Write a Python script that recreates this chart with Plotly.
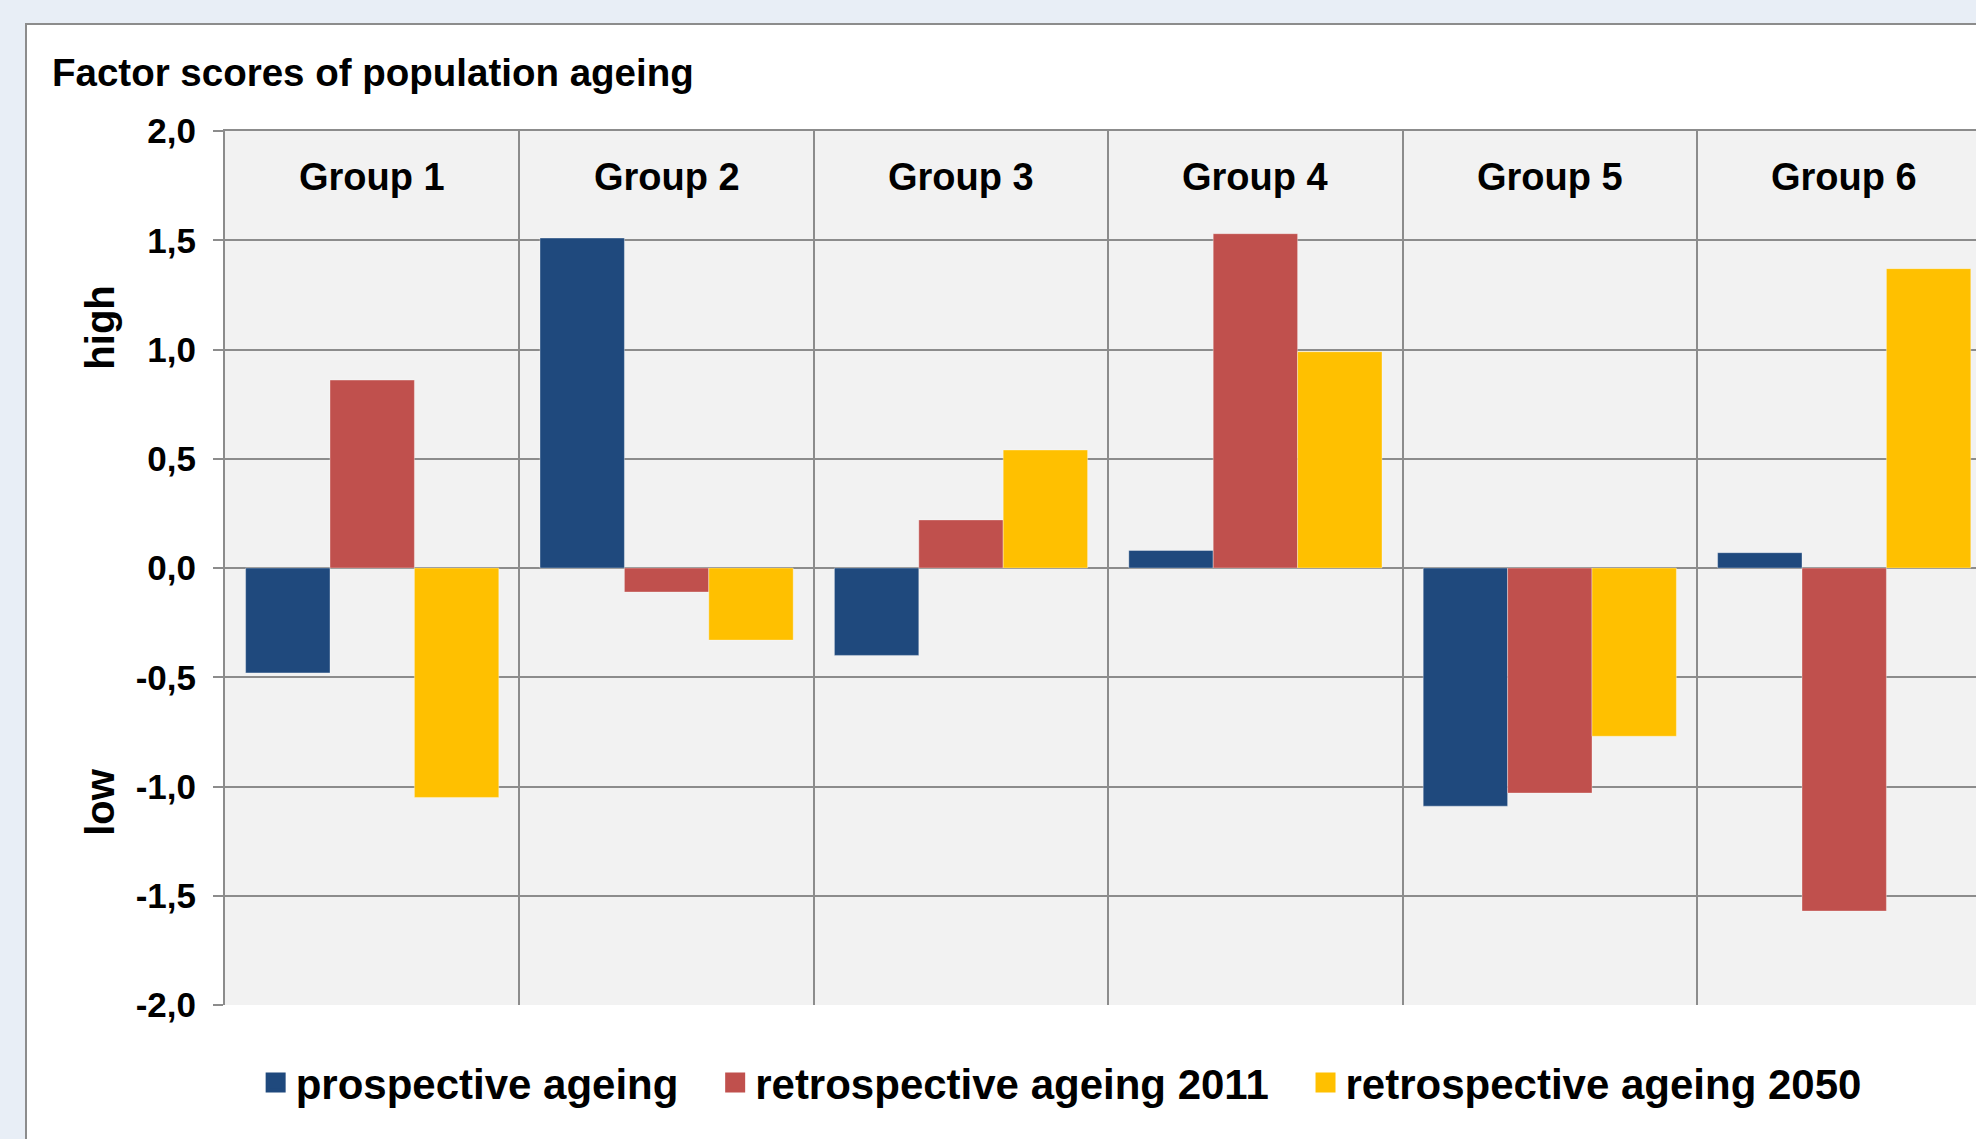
import plotly.graph_objects as go

# Factor scores by group and ageing indicator
groups = ["Group 1", "Group 2", "Group 3", "Group 4", "Group 5", "Group 6"]
series_names = ["prospective ageing", "retrospective ageing 2011", "retrospective ageing 2050"]
prospective = [-0.48, 1.51, -0.40, 0.08, -1.09, 0.07]
retro_2011 = [0.86, -0.11, 0.22, 1.53, -1.03, -1.57]
retro_2050 = [-1.05, -0.33, 0.54, 0.99, -0.77, 1.37]
series_values = [prospective, retro_2011, retro_2050]
series_colors = ["#1F497D", "#C0504D", "#FFC000"]

y_tickvals = [-2.0, -1.5, -1.0, -0.5, 0.0, 0.5, 1.0, 1.5, 2.0]
y_ticktext = ["-2,0", "-1,5", "-1,0", "-0,5", "0,0", "0,5", "1,0", "1,5", "2,0"]

FONT = "Liberation Sans, Arial, sans-serif"
GRID = "#8C8C8C"

fig = go.Figure()

for name, vals, col in zip(series_names, series_values, series_colors):
    fig.add_trace(go.Bar(
        x=groups, y=vals, name=name, showlegend=False,
        marker=dict(color=col, line=dict(color="rgba(255,255,255,0.35)", width=1)),
    ))

# legend entries drawn as larger square swatches
for name, col in zip(series_names, series_colors):
    fig.add_trace(go.Scatter(
        x=[None], y=[None], mode="markers", name=name + "\u00a0\u00a0\u2009",
        marker=dict(symbol="square", size=16, color=col, line=dict(color=col, width=4)),
    ))

# group headers sit inside the top band of each category column
group_headers = [
    dict(text=g, x=g, xref="x", y=(1005 - 177) / 874, yref="y domain",
         showarrow=False, xanchor="center", yanchor="middle",
         font=dict(family=FONT, size=38, color="#000000", weight="bold"))
    for g in groups
]

fig.update_layout(
    width=1976, height=1139,
    margin=dict(l=225, r=0, t=131, b=134, autoexpand=False),
    paper_bgcolor="#E8EEF6",
    plot_bgcolor="rgba(0,0,0,0)",
    barmode="group", bargap=0.14, bargroupgap=0,
    font=dict(family=FONT, color="#000000", size=34, weight="bold"),
    title=dict(
        text="Factor scores of population ageing",
        x=52 / 1976, xref="container", xanchor="left",
        y=1 - 73 / 1139, yref="container", yanchor="middle",
        font=dict(family=FONT, size=38.5, color="#000000", weight="bold"),
    ),
    showlegend=True,
    legend=dict(
        orientation="h", x=0.0175, xanchor="left", y=-0.089, yanchor="middle",
        font=dict(family=FONT, size=42, color="#000000", weight="bold"),
        bgcolor="rgba(0,0,0,0)", borderwidth=0, itemclick=False,
    ),
    shapes=[
        # white chart panel with grey frame
        dict(type="rect", xref="paper", yref="paper",
             x0=(26 - 225) / 1751, x1=1.2, y0=-0.4, y1=(1005 - 24) / 874,
             fillcolor="#FFFFFF", line=dict(color=GRID, width=2), layer="below"),
        # plot area fill
        dict(type="rect", xref="x domain", yref="y domain", x0=0, x1=1, y0=0, y1=1,
             fillcolor="#F2F2F2", line=dict(width=0), layer="below"),
    ],
    annotations=group_headers + [
        dict(text="high", x=(100 - 225) / 1751, xref="paper", y=1.10, yref="y",
             textangle=-90, showarrow=False, xanchor="center", yanchor="middle",
             font=dict(family=FONT, size=40, color="#000000", weight="bold")),
        dict(text="low", x=(100 - 225) / 1751, xref="paper", y=-1.07, yref="y",
             textangle=-90, showarrow=False, xanchor="center", yanchor="middle",
             font=dict(family=FONT, size=40, color="#000000", weight="bold")),
    ],
)

fig.update_xaxes(
    type="category", range=[-0.5, -0.5 + 1751 / 294.4],
    side="top", showticklabels=False, ticks="",
    tickson="boundaries", showgrid=True, gridcolor=GRID, gridwidth=2,
    showline=True, linecolor=GRID, linewidth=2,
    zeroline=False, automargin=False, fixedrange=True,
)

fig.update_yaxes(
    range=[-2.0, 2.0], tickvals=y_tickvals, ticktext=y_ticktext,
    showgrid=True, gridcolor=GRID, gridwidth=2,
    zeroline=True, zerolinecolor=GRID, zerolinewidth=2,
    showline=True, linecolor=GRID, linewidth=2,
    ticks="outside", ticklen=10, tickwidth=2, tickcolor=GRID,
    ticklabelstandoff=10, automargin=False, fixedrange=True,
    tickfont=dict(family=FONT, size=35, color="#000000", weight="bold"),
)

fig.write_html("out.html")
